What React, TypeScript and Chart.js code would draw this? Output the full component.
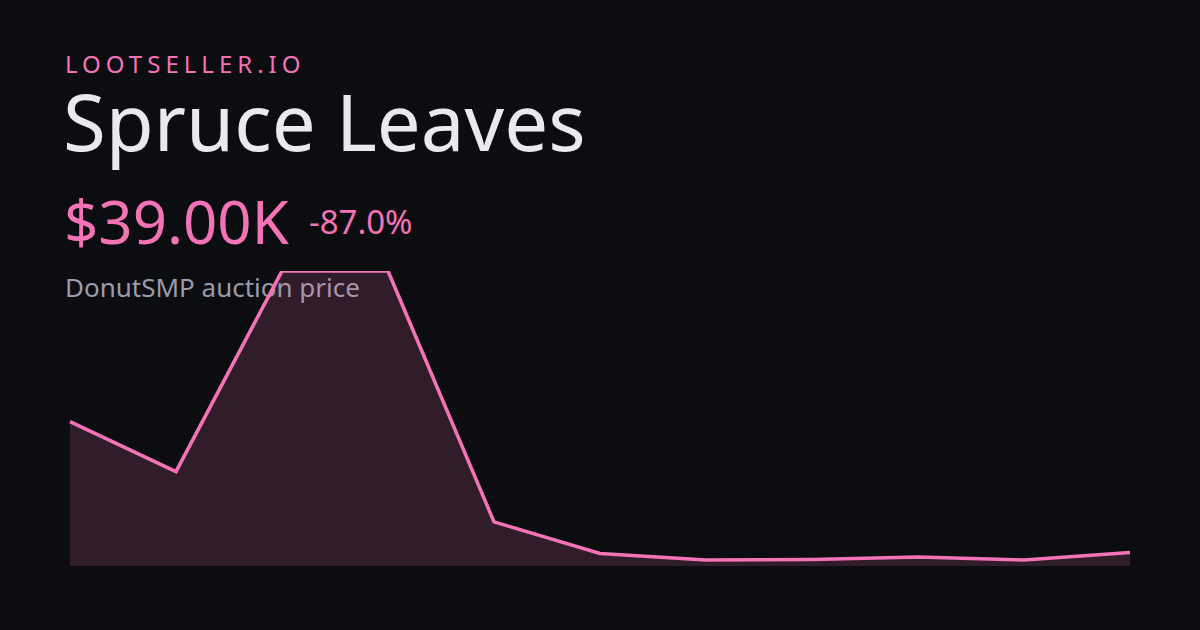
import React, { useEffect, useRef } from "react";
import { Chart, registerables } from "chart.js";

Chart.register(...registerables);

const labels: string[] = ["1", "2", "3", "4", "5", "6", "7", "8", "9", "10", "11"];
const prices: number[] = [300, 200, 600, 600, 100, 37, 24, 25, 30, 24, 39];
const yMin = 12;
const yMax = 600;

const brand = "LOOTSELLER.IO";
const title = "Spruce Leaves";
const priceText = "$39.00K";
const changeText = "-87.0%";
const subtitle = "DonutSMP auction price";

const PINK = "#f472b6";
const FONT = "'Noto Sans', sans-serif";

export default function App() {
  const canvasRef = useRef<HTMLCanvasElement | null>(null);

  useEffect(() => {
    document.body.style.margin = "0";
    const ctx = canvasRef.current;
    if (!ctx) return;
    const chart = new Chart(ctx, {
      type: "line",
      data: {
        labels,
        datasets: [
          {
            data: prices,
            borderColor: PINK,
            borderWidth: 3.6,
            backgroundColor: "rgba(244,114,182,0.16)",
            fill: "start",
            pointRadius: 0,
            tension: 0,
            borderJoinStyle: "miter",
          },
        ],
      },
      options: {
        animation: false,
        responsive: false,
        maintainAspectRatio: false,
        layout: { padding: 10 },
        plugins: { legend: { display: false }, tooltip: { enabled: false } },
        scales: {
          x: { display: false, offset: false },
          y: { display: false, min: yMin, max: yMax },
        },
      },
    });
    return () => chart.destroy();
  }, []);

  const abs = (top: number, left: number, size: number, color: string, extra: React.CSSProperties = {}): React.CSSProperties => ({
    position: "absolute",
    top,
    left,
    fontSize: size,
    lineHeight: 1,
    color,
    fontFamily: FONT,
    whiteSpace: "nowrap",
    margin: 0,
    ...extra,
  });

  return (
    <div style={{ position: "fixed", left: 0, top: 0, width: 1200, height: 630, background: "#0c0d10", overflow: "hidden" }}>
      <div style={abs(52, 65, 24, PINK, { letterSpacing: "5px" })}>{brand}</div>
      <div style={abs(82, 63, 78, "#e9eaef")}>{title}</div>
      <div style={abs(191, 64, 60, PINK)}>{priceText}</div>
      <div style={abs(205, 309, 33, PINK)}>{changeText}</div>
      <div style={abs(274, 65, 26, "#9a9cab")}>{subtitle}</div>
      <canvas
        ref={canvasRef}
        width={1080}
        height={315}
        style={{ position: "absolute", left: 60, top: 261, width: 1080, height: 315, zIndex: 2 }}
      />
    </div>
  );
}
